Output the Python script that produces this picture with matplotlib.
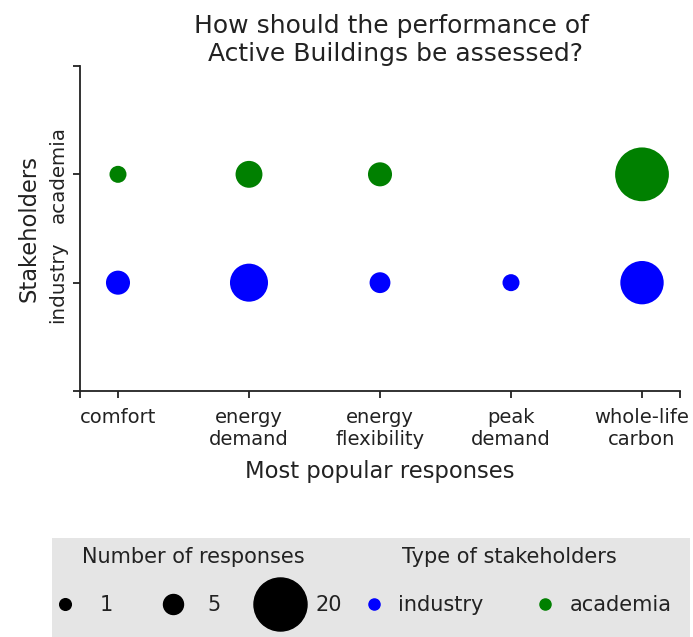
import numpy as np
import matplotlib.pyplot as plt
from matplotlib.lines import Line2D
from matplotlib.patches import Rectangle

# Данные опроса
responses = ['comfort', 'energy\ndemand', 'energy\nflexibility', 'peak\ndemand', 'whole-life\ncarbon']
stakeholders = ['industry', 'academia']
industry_counts = [4, 10, 3, 2, 13]
academia_counts = [2, 5, 4, 0, 20]
legend_counts = [1, 5, 20]

COLORS = {'industry': '#0000ff', 'academia': '#008000'}
SIZE_PER_RESPONSE = 75      # площадь маркера (pt^2) на один ответ
LEGEND_MARKER_PT = [8.4, 14.4, 38.2]
TEXT = '#222222'

W, H = 693, 637
fig = plt.figure(figsize=(W / 100, H / 100), dpi=100)
ax = fig.add_axes([80 / W, 1 - 391 / H, 600 / W, 325 / H])

x = np.arange(len(responses))
for row, (name, counts) in enumerate(zip(stakeholders, [industry_counts, academia_counts])):
    counts = np.array(counts)
    mask = counts > 0
    ax.scatter(x[mask], np.full(mask.sum(), row), s=counts[mask] * SIZE_PER_RESPONSE,
               color=COLORS[name], edgecolors='none', zorder=3)

ax.set_xlim(-0.29, len(responses) - 1 + 0.29)
ax.set_ylim(-1, 2)
xl, xr = ax.get_xlim()
ax.set_xticks([xl] + list(x) + [xr])
ax.set_xticklabels([''] + responses + [''], fontsize=14, linespacing=1.2)
ax.set_yticks([-1, 0, 1, 2])
ax.set_yticklabels([''] + stakeholders + [''], rotation=90, va='center', fontsize=14.3)

for side in ['top', 'right']:
    ax.spines[side].set_visible(False)
for side in ['left', 'bottom']:
    ax.spines[side].set_linewidth(1.3)
    ax.spines[side].set_color(TEXT)
ax.tick_params(length=5, width=1.3, color=TEXT, labelcolor=TEXT)
ax.tick_params(axis='x', pad=7)
ax.tick_params(axis='y', pad=4)

ax.set_xlabel('Most popular responses', fontsize=16.3, color=TEXT, labelpad=8)
ax.set_ylabel('Stakeholders', fontsize=16.3, color=TEXT, labelpad=6)
ax.set_title('How should the performance of\n Active Buildings be assessed?',
             fontsize=18, color=TEXT, x=0.52, pad=-2.5, linespacing=1.2)

# Серая подложка легенды
fig.patches.append(Rectangle((52 / W, 0), (690 - 52) / W, 1 - 538 / H,
                             transform=fig.transFigure, facecolor='#e5e5e5',
                             edgecolor='none', zorder=0))
fig.text(82 / W, 1 - 557 / H, 'Number of responses', fontsize=15, va='center', color=TEXT)
fig.text(402 / W, 1 - 557 / H, 'Type of stakeholders', fontsize=15, va='center', color=TEXT)

size_handles = [Line2D([], [], ls='', marker='o', color='black', markersize=ms)
                for ms in LEGEND_MARKER_PT]
leg1 = fig.legend(size_handles, [str(c) for c in legend_counts], ncol=3,
                  loc='center left', bbox_to_anchor=(54.6 / W, 1 - 605 / H),
                  frameon=False, handlelength=1.0, handletextpad=1.18,
                  columnspacing=2.35, borderpad=0, borderaxespad=0, fontsize=15)

type_handles = [Line2D([], [], ls='', marker='o', color=COLORS[n], markersize=8)
                for n in stakeholders]
leg2 = fig.legend(type_handles, stakeholders, ncol=2,
                  loc='center left', bbox_to_anchor=(363.6 / W, 1 - 605 / H),
                  frameon=False, handlelength=1.0, handletextpad=0.65,
                  columnspacing=2.48, borderpad=0, borderaxespad=0, fontsize=15)
for leg in (leg1, leg2):
    for t in leg.get_texts():
        t.set_color(TEXT)

fig.savefig('out.png', dpi=100)
